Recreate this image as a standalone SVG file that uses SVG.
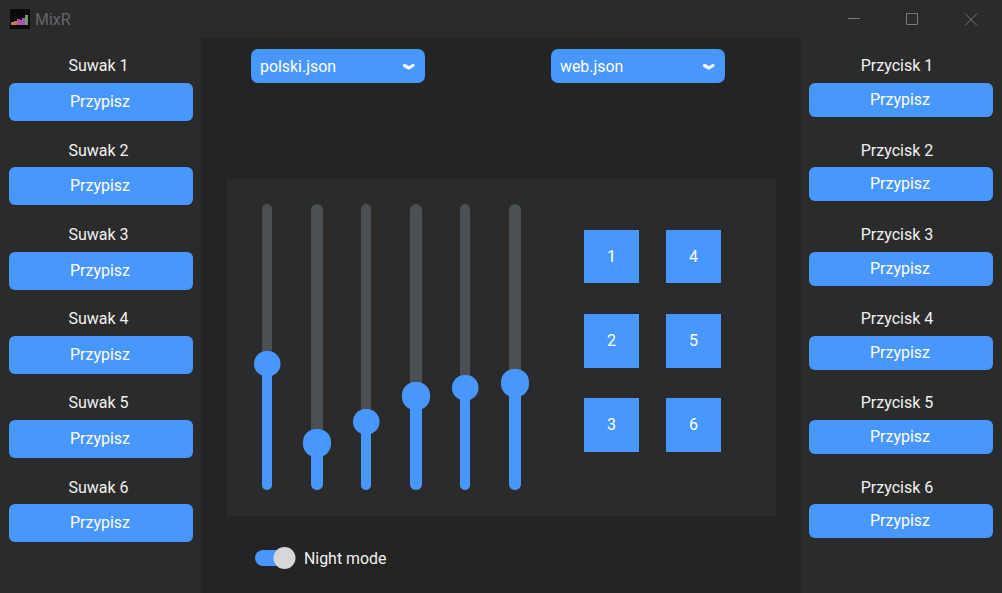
<svg xmlns="http://www.w3.org/2000/svg" width="1002" height="593" viewBox="0 0 1002 593">
<style>
text{font-family:Roboto,"Liberation Sans",sans-serif;font-size:16px;fill:#fff;text-anchor:middle}
.lbl{fill:#f2f2f2}
.btn{fill:#4897ff}
.track{fill:#4a4f53}
.val{fill:#4897ff}
.wc{stroke:#7a7a7a;stroke-width:1;fill:none}
.chev{stroke:#fff;stroke-width:3.200;fill:none;stroke-linecap:round;stroke-linejoin:round}
</style>
<rect width="1002" height="593" fill="#2b2b2b"/>
<rect x="201" y="38" width="600" height="555" fill="#242424"/>
<rect x="226" y="179" width="550" height="337" fill="#2b2b2b"/>
<g id="titlebar">
<rect x="10" y="9" width="20" height="20" fill="#0a0a0a"/>
<rect x="11" y="22" width="3" height="3" fill="#c8843c"/><rect x="14" y="21" width="3" height="4" fill="#c07a50"/><rect x="17" y="19" width="3" height="6" fill="#b0559a"/><rect x="20" y="20" width="2" height="5" fill="#a850b0"/><rect x="22" y="18" width="3" height="7" fill="#a055b0"/><rect x="25" y="15" width="3" height="10" fill="#6a9a70"/>
<text x="35" y="25" style="text-anchor:start;fill:#62666b">MixR</text>
<path class="wc" d="M848 18.500H860M906.500 13.500H917.500V24.500H906.500ZM965 13.500L977 25.500M977 13.500L965 25.500"/>
</g>
<g id="suwak1"><text class="lbl" x="98.500" y="71">Suwak 1</text><rect class="btn" x="9" y="83" width="184" height="38" rx="6"/><text x="100" y="107">Przypisz</text></g>
<g id="suwak2"><text class="lbl" x="98.500" y="156">Suwak 2</text><rect class="btn" x="9" y="167" width="184" height="38" rx="6"/><text x="100" y="191">Przypisz</text></g>
<g id="suwak3"><text class="lbl" x="98.500" y="240">Suwak 3</text><rect class="btn" x="9" y="252" width="184" height="38" rx="6"/><text x="100" y="276">Przypisz</text></g>
<g id="suwak4"><text class="lbl" x="98.500" y="324">Suwak 4</text><rect class="btn" x="9" y="336" width="184" height="38" rx="6"/><text x="100" y="360">Przypisz</text></g>
<g id="suwak5"><text class="lbl" x="98.500" y="408">Suwak 5</text><rect class="btn" x="9" y="420" width="184" height="38" rx="6"/><text x="100" y="444">Przypisz</text></g>
<g id="suwak6"><text class="lbl" x="98.500" y="493">Suwak 6</text><rect class="btn" x="9" y="504" width="184" height="38" rx="6"/><text x="100" y="528">Przypisz</text></g>
<g id="przycisk1"><text class="lbl" x="897" y="71">Przycisk 1</text><rect class="btn" x="809" y="83" width="184" height="34" rx="6"/><text x="900" y="105">Przypisz</text></g>
<g id="przycisk2"><text class="lbl" x="897" y="156">Przycisk 2</text><rect class="btn" x="809" y="167" width="184" height="34" rx="6"/><text x="900" y="189">Przypisz</text></g>
<g id="przycisk3"><text class="lbl" x="897" y="240">Przycisk 3</text><rect class="btn" x="809" y="252" width="184" height="34" rx="6"/><text x="900" y="274">Przypisz</text></g>
<g id="przycisk4"><text class="lbl" x="897" y="324">Przycisk 4</text><rect class="btn" x="809" y="336" width="184" height="34" rx="6"/><text x="900" y="358">Przypisz</text></g>
<g id="przycisk5"><text class="lbl" x="897" y="408">Przycisk 5</text><rect class="btn" x="809" y="420" width="184" height="34" rx="6"/><text x="900" y="442">Przypisz</text></g>
<g id="przycisk6"><text class="lbl" x="897" y="493">Przycisk 6</text><rect class="btn" x="809" y="504" width="184" height="34" rx="6"/><text x="900" y="526">Przypisz</text></g>
<g id="dropdown1"><rect class="btn" x="251" y="49" width="174" height="34" rx="7"/><text x="260" y="72" style="text-anchor:start;font-size:15.900px">polski.json</text><path class="chev" d="M404.500 65.500L408.800 68L413 65.500"/></g>
<g id="dropdown2"><rect class="btn" x="551" y="49" width="174" height="34" rx="7"/><text x="560" y="72" style="text-anchor:start;font-size:15.900px">web.json</text><path class="chev" d="M704.500 65.500L708.800 68L713 65.500"/></g>
<g id="slider1"><rect class="track" x="262" y="204" width="10" height="286" rx="5"/><rect class="val" x="262" y="364" width="10" height="126" rx="5"/><rect class="val" x="254" y="351" width="26.500" height="25.500" rx="12.500"/></g>
<g id="slider2"><rect class="track" x="311" y="204" width="12" height="286" rx="6"/><rect class="val" x="311" y="443" width="12" height="47" rx="6"/><rect class="val" x="303" y="429" width="28" height="28" rx="13"/></g>
<g id="slider3"><rect class="track" x="361" y="204" width="10" height="286" rx="5"/><rect class="val" x="361" y="422" width="10" height="68" rx="5"/><rect class="val" x="353" y="409" width="26.500" height="25.500" rx="12.500"/></g>
<g id="slider4"><rect class="track" x="410" y="204" width="12" height="286" rx="6"/><rect class="val" x="410" y="396" width="12" height="94" rx="6"/><rect class="val" x="402" y="382" width="28" height="28" rx="13"/></g>
<g id="slider5"><rect class="track" x="460" y="204" width="10" height="286" rx="5"/><rect class="val" x="460" y="388" width="10" height="102" rx="5"/><rect class="val" x="452" y="375" width="26.500" height="25.500" rx="12.500"/></g>
<g id="slider6"><rect class="track" x="509" y="204" width="12" height="286" rx="6"/><rect class="val" x="509" y="383" width="12" height="107" rx="6"/><rect class="val" x="501" y="369" width="28" height="28" rx="13"/></g>
<g id="b1"><rect class="btn" x="584" y="230" width="55" height="53"/><text x="611.500" y="262">1</text></g>
<g id="b4"><rect class="btn" x="666" y="230" width="55" height="53"/><text x="693.500" y="262">4</text></g>
<g id="b2"><rect class="btn" x="584" y="314" width="55" height="54"/><text x="611.500" y="346">2</text></g>
<g id="b5"><rect class="btn" x="666" y="314" width="55" height="54"/><text x="693.500" y="346">5</text></g>
<g id="b3"><rect class="btn" x="584" y="398" width="55" height="54"/><text x="611.500" y="430">3</text></g>
<g id="b6"><rect class="btn" x="666" y="398" width="55" height="54"/><text x="693.500" y="430">6</text></g>
<g id="nightmode"><rect class="btn" x="255" y="550" width="36" height="16" rx="8"/><circle cx="284.500" cy="558" r="11" fill="#d5d7db"/><text class="lbl" x="304" y="564" style="text-anchor:start;font-size:15.900px">Night mode</text></g>
</svg>
